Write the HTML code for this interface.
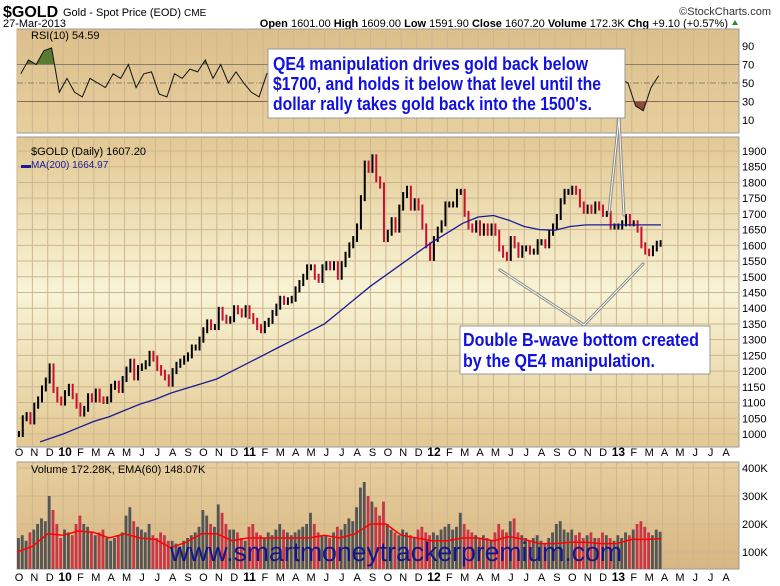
<!DOCTYPE html>
<html><head><meta charset="utf-8"><style>
html,body{margin:0;padding:0;background:#fff;}
svg{display:block;font-family:"Liberation Sans",sans-serif;}
</style></head><body>
<svg id="chart" width="780" height="586" viewBox="0 0 780 586" xmlns="http://www.w3.org/2000/svg">
<defs>
<linearGradient id="gMain" x1="0" y1="0" x2="0" y2="1">
<stop offset="0" stop-color="#e2c892"/><stop offset="0.5" stop-color="#f8f4d6"/><stop offset="1" stop-color="#e2c892"/></linearGradient>
<linearGradient id="gRsi" x1="0" y1="0" x2="0" y2="1">
<stop offset="0" stop-color="#dcbf8b"/><stop offset="1" stop-color="#e6cf9e"/></linearGradient>
<linearGradient id="gVol" x1="0" y1="0" x2="0" y2="1">
<stop offset="0" stop-color="#e6cf9e"/><stop offset="1" stop-color="#d8b683"/></linearGradient>
<clipPath id="cAbove"><rect x="17" y="29" width="722" height="35"/></clipPath>
<clipPath id="cBelow"><rect x="17" y="101" width="722" height="32"/></clipPath>
</defs>
<g id="hdr">
<text x="3" y="17" font-size="16" font-weight="bold">$GOLD</text>
<text x="63" y="16" font-size="11">Gold - Spot Price (EOD) <tspan font-size="10">CME</tspan></text>
<text x="3" y="27" font-size="11">27-Mar-2013</text>
<text x="771" y="15" font-size="11" text-anchor="end" fill="#333">©StockCharts.com</text>
<text x="728" y="27" font-size="11" text-anchor="end"><tspan font-weight="bold">Open</tspan> 1601.00 <tspan font-weight="bold">High</tspan> 1609.00 <tspan font-weight="bold">Low</tspan> 1591.90 <tspan font-weight="bold">Close</tspan> 1607.20 <tspan font-weight="bold">Volume</tspan> 172.3K <tspan font-weight="bold">Chg</tspan> +9.10 (+0.57%)</text>
<polygon points="732,25 738,25 735,20" fill="#2a8a2a"/>
</g>
<rect x="17" y="29" width="722" height="104" fill="url(#gRsi)" stroke="#999"/>
<rect x="17" y="137" width="722" height="310" fill="url(#gMain)" stroke="#999"/>
<rect x="17" y="462" width="722" height="107" fill="url(#gVol)" stroke="#999"/>
<g id="grid"></g>
<g id="rsiG"></g>
<g id="priceG"></g>
<g id="volG"></g>
<g id="axes"></g>
<text x="31" y="39" font-size="11">RSI(10) 54.59</text>
<text x="31" y="155" font-size="11">$GOLD (Daily) 1607.20</text>
<text x="21" y="168" font-size="10" fill="#1a1a99">▬MA(200) 1664.97</text>
<text x="31" y="473" font-size="11">Volume 172.28K, EMA(60) 148.07K</text>
<text x="170" y="561" font-size="27" fill="#14148c" textLength="452" lengthAdjust="spacingAndGlyphs">www.smartmoneytrackerpremium.com</text>
<g stroke-linecap="round">
<polyline points="609,213 619,118 624,215" fill="none" stroke="#888" stroke-width="3"/>
<polyline points="609,213 619,118 624,215" fill="none" stroke="#fff" stroke-width="1"/>
<polyline points="500,270 584,325 643,264" fill="none" stroke="#888" stroke-width="3"/>
<polyline points="500,270 584,325 643,264" fill="none" stroke="#fff" stroke-width="1"/>
</g>
<g>
<rect x="268" y="49" width="357" height="69" fill="#fff" stroke="#999"/>
<g font-size="18" font-weight="bold" fill="#1010e0">
<text x="273" y="70" textLength="315" lengthAdjust="spacingAndGlyphs">QE4 manipulation drives gold back below</text>
<text x="273" y="90" textLength="328" lengthAdjust="spacingAndGlyphs">$1700, and holds it below that level until the</text>
<text x="273" y="110" textLength="319" lengthAdjust="spacingAndGlyphs">dollar rally takes gold back into the 1500's.</text>
</g></g>
<g>
<rect x="460" y="326" width="250" height="48" fill="#fff" stroke="#999"/>
<g font-size="18" font-weight="bold" fill="#1010e0">
<text x="463" y="346" textLength="236" lengthAdjust="spacingAndGlyphs">Double B-wave bottom created</text>
<text x="463" y="367" textLength="192" lengthAdjust="spacingAndGlyphs">by the QE4 manipulation.</text>
</g></g>
</svg>
<script>
const monthLabels=["O","N","D","10","F","M","A","M","J","J","A","S","O","N","D","11","F","M","A","M","J","J","A","S","O","N","D","12","F","M","A","M","J","J","A","S","O","N","D","13","F","M","A","M","J","J","A"];
const priceTicks=[1000,1050,1100,1150,1200,1250,1300,1350,1400,1450,1500,1550,1600,1650,1700,1750,1800,1850,1900];
const rsiTicks=[90,70,50,30,10];
const volTicks=[400,300,200,100];
const closes=[1000,1050,1060,1040,1090,1110,1145,1170,1215,1140,1110,1100,1130,1150,1120,1090,1065,1080,1120,1110,1135,1110,1105,1110,1150,1160,1140,1175,1205,1230,1180,1210,1215,1225,1255,1240,1210,1195,1180,1160,1200,1220,1230,1240,1250,1275,1275,1300,1330,1355,1340,1340,1395,1370,1360,1365,1400,1390,1380,1400,1375,1360,1340,1330,1350,1360,1385,1405,1430,1420,1425,1430,1460,1480,1500,1530,1530,1500,1490,1530,1540,1530,1540,1500,1540,1570,1600,1620,1660,1750,1860,1840,1880,1810,1790,1620,1640,1680,1650,1720,1760,1780,1720,1740,1720,1660,1600,1560,1620,1650,1670,1730,1730,1730,1770,1770,1700,1660,1650,1670,1640,1660,1640,1660,1640,1590,1570,1560,1620,1600,1570,1590,1590,1580,1580,1610,1610,1600,1640,1660,1690,1740,1770,1770,1780,1770,1730,1710,1720,1710,1730,1720,1700,1700,1660,1660,1660,1670,1690,1670,1670,1650,1600,1580,1575,1590,1605,1607];
const maMonths=[1.5,3,4,5,6,7,8,9,10,11,12,13,14,15,16,17,18,19,20,21,22,23,24,25,26,27,28,29,30,31,32,33,34,35,36,37,38,39,40,41,41.9];
const maValues=[975,1000,1020,1040,1055,1075,1095,1110,1130,1145,1160,1175,1200,1225,1250,1275,1300,1325,1350,1390,1430,1470,1505,1540,1575,1610,1640,1670,1690,1695,1680,1660,1650,1648,1660,1665,1665,1665,1665,1665,1665];
const rsiValues=[60,75,70,85,88,40,55,40,35,55,50,45,60,55,70,45,60,62,38,35,60,55,65,62,75,55,70,50,62,50,40,35,60,62,55,60,72,75,40,50,50,40,70,75,85,70,55,30,55,60,65,50,35,30,60,70,70,60,35,40,45,50,30,35,55,45,45,55,55,65,80,75,55,45,55,50,40,45,55,50,25,20,45,58];
const volumes=[150,160,140,170,180,200,220,210,300,250,200,150,180,170,160,200,230,200,190,170,160,170,180,150,140,150,160,170,230,260,210,190,180,170,200,160,150,170,160,140,140,130,120,140,150,160,170,190,250,230,200,190,270,240,200,180,180,170,150,140,190,200,170,160,150,170,160,180,200,180,170,160,170,180,190,200,240,200,170,160,160,150,170,190,180,200,220,210,260,330,350,300,280,260,230,280,200,180,170,160,180,170,160,150,180,190,170,160,170,160,180,190,200,180,190,240,200,180,170,160,150,160,150,140,170,200,180,170,210,220,170,160,150,140,150,160,140,130,150,170,200,210,180,170,180,160,170,150,160,170,150,150,170,160,150,140,160,150,170,160,180,200,210,190,170,160,180,172];
const emaMonths=[0,1,2,3,4,5,6,7,8,9,10,11,12,13,14,15,16,17,18,19,20,21,22,23,24,25,26,27,28,29,30,31,32,33,34,35,36,37,38,39,40,41,41.9];
const emaValues=[100,120,165,160,175,170,150,165,150,145,115,135,165,165,140,150,150,150,150,150,160,150,165,200,200,160,150,140,140,150,150,140,155,145,130,130,135,135,130,130,145,145,148];

const NS="http://www.w3.org/2000/svg";
const MW=15.37, X0=17;
const xM=t=>X0+t*MW;
const yP=p=>434-(p-1000)*283/900;
const yR=v=>83-(v-50)*0.925;
const yV=v=>552-(v-100)*0.28;
function mk(tag,attrs,parent){const e=document.createElementNS(NS,tag);for(const k in attrs)e.setAttribute(k,attrs[k]);parent.appendChild(e);return e;}
const grid=document.getElementById('grid'),axes=document.getElementById('axes');
monthLabels.forEach((m,i)=>{const x=xM(i);if(x>739)return;
 [[29,133],[137,447],[462,569]].forEach(([a,b])=>{const l=mk('line',{x1:x,x2:x,y1:a,y2:b,stroke:'#cdb68f','stroke-width':1},grid);
 
 });
 [452,577].forEach(yy=>{const t=mk('text',{x:x+2,y:yy+4,'font-size':(m.length>1?12:11),'font-weight':(m.length>1?'bold':'normal'),'text-anchor':'middle'},axes);t.textContent=m;
 
 });
});
priceTicks.forEach(p=>{const y=yP(p);
 const l=mk('line',{x1:17,x2:739,y1:y,y2:y,stroke:'#cdb68f'},grid);
 
 
 const t=mk('text',{x:742,y:y+4,'font-size':11},axes);t.textContent=p;
 
 });
rsiTicks.forEach(v=>{const y=yR(v);
 if(v===70||v===30){const l=mk('line',{x1:17,x2:739,y1:y,y2:y,stroke:'#8a8070'},grid);
 
 }
 if(v===50){const l=mk('line',{x1:17,x2:739,y1:y,y2:y,stroke:'#8a8070','stroke-dasharray':'6,2,1,2'},grid);
 
 }
 const t=mk('text',{x:742,y:y+4,'font-size':11},axes);t.textContent=v;
 
 });
volTicks.forEach(v=>{const y=yV(v);
 const l=mk('line',{x1:17,x2:739,y1:y,y2:y,stroke:'#cdb68f'},grid);
 
 
 const t=mk('text',{x:742,y:y+4,'font-size':11},axes);t.textContent=v+'K';
 
 });
const rsiG=document.getElementById('rsiG');
const rpts=rsiValues.map((v,i)=>[xM((i+0.5)/2),yR(v)]);
const rstr=rpts.map(p=>p[0].toFixed(1)+','+p[1].toFixed(1)).join(' ');
const first=rpts[0][0],last=rpts[rpts.length-1][0];
const fa=mk('polygon',{points:first+','+yR(70)+' '+rstr+' '+last+','+yR(70),fill:'#5a7a30','clip-path':'url(#cAbove)'},rsiG);


const fb=mk('polygon',{points:first+','+yR(30)+' '+rstr+' '+last+','+yR(30),fill:'#8a4a3a','clip-path':'url(#cBelow)'},rsiG);


const rl=mk('polyline',{points:rstr,fill:'none',stroke:'#111','stroke-width':1},rsiG);


const pg=document.getElementById('priceG');
closes.forEach((c,i)=>{const prev=i?closes[i-1]:c;const t=(i+0.5)/4;const x=xM(t);
 const hi=Math.max(c,prev),lo=Math.min(c,prev);
 const b=mk('line',{x1:x,x2:x,y1:yP(hi)-3,y2:yP(lo)+3,stroke:(c>=prev?'#000':'#c8102e'),'stroke-width':2},pg);
 
 });
const ma=mk('polyline',{points:maMonths.map((m,i)=>xM(m).toFixed(1)+','+yP(maValues[i]).toFixed(1)).join(' '),fill:'none',stroke:'#1a1a99','stroke-width':1.3},pg);


const vg=document.getElementById('volG');
volumes.forEach((v,i)=>{const x=xM(i/4);const up=i===0||closes[i]>=closes[i-1];
 const r=mk('rect',{x:x,y:yV(v),width:MW/4-1,height:569-yV(v),fill:(up?'#555':'#c83848')},vg);
 
 });
const ema=mk('polyline',{points:emaMonths.map((m,i)=>xM(m).toFixed(1)+','+yV(emaValues[i]).toFixed(1)).join(' '),fill:'none',stroke:'#f00','stroke-width':1.5},vg);


</script>
</body></html>
